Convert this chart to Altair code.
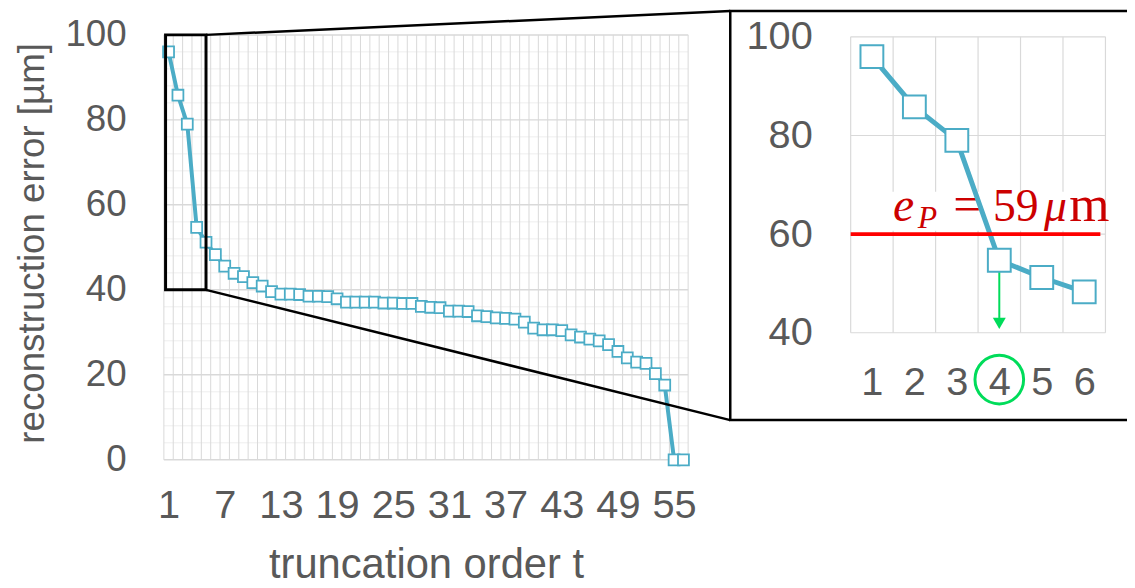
import altair as alt
import pandas as pd

# ---------------- data ----------------
orders = list(range(1, 57))
error_um = [96.0, 85.8, 79.0, 54.7, 51.2, 48.3, 45.6, 43.9, 43.1, 41.7,
            40.9, 39.6, 39.0, 39.0, 38.9, 38.5, 38.5, 38.4, 37.9, 37.1,
            37.1, 37.1, 37.1, 36.9, 36.9, 36.8, 36.8, 36.1, 35.9, 35.8,
            35.0, 35.0, 34.9, 33.9, 33.7, 33.4, 33.3, 33.1, 32.4, 31.0,
            30.6, 30.6, 30.4, 29.4, 28.9, 28.4, 28.0, 27.1, 25.5, 24.0,
            23.0, 22.7, 20.3, 17.6, 0.0, 0.0]
x_tick_labels = [1, 7, 13, 19, 25, 31, 37, 43, 49, 55]
y_ticks = [0, 20, 40, 60, 80, 100]
y_minor_ticks = [v for v in range(0, 101, 4) if v % 20]

inset_n = 6
inset_orders = orders[:inset_n]
inset_error_um = error_um[:inset_n]
inset_y_ticks = [40, 60, 80, 100]
threshold_drawn = 60
selected_order = 4

# zoom window (main-chart units) and the inset frame expressed in main-chart units
zoom_x = [0.68, 5.0]
zoom_y = [40, 100]
frame_x = [61.0, 110.0]
frame_y = [9.35, 105.6]

# ---------------- style ----------------
FONT = "Liberation Sans"
GRAY = "#595959"
BLUE = "#4BACC6"
GRID = "#D9D9D9"
GRID_MINOR = "#EEEEEE"
RED_LINE = "#FF0000"
RED_TEXT = "#CC0000"
GREEN = "#00DC5A"

MX = alt.Scale(domain=[0.5, 56.5], range=[157, 685], nice=False, zero=False)
MY = alt.Scale(domain=[0, 100], range=[453, 25], nice=False, zero=False)
IX = alt.Scale(domain=[0.5, 6.5], range=[848.7, 1105.3], nice=False, zero=False)
IY = alt.Scale(domain=[40, 100], range=[325, 27], nice=False, zero=False)

AXC = dict(labelFont=FONT, labelColor=GRAY, ticks=False, domain=False,
           grid=False, labelFlush=False, labelOverlap=False)

main_x_axis = alt.Axis(orient="bottom", offset=-127, values=x_tick_labels, format="d",
                       labelFontSize=40, labelPadding=46, labelBaseline="middle",
                       title="truncation order t", titleFont=FONT, titleFontSize=42,
                       titleFontWeight="normal", titleColor=GRAY, titleY=119,
                       titleBaseline="alphabetic", **AXC)
main_y_axis = alt.Axis(orient="left", offset=-157, values=y_ticks, format="d",
                       labelFontSize=37, labelPadding=38, labelBaseline="middle",
                       title="reconstruction error [µm]", titleFont=FONT, titleFontSize=37,
                       titleFontWeight="normal", titleColor=GRAY, titleX=-132, titleY=234.5,
                       titleAngle=270, titleBaseline="middle", titleAlign="center", **AXC)
inset_x_axis = alt.Axis(orient="bottom", offset=-255, values=inset_orders, format="d",
                        labelFontSize=40, labelPadding=50, labelBaseline="middle",
                        title="", **AXC)
inset_y_axis = alt.Axis(orient="left", offset=-848.7, values=inset_y_ticks, format="d",
                        labelFontSize=40, labelPadding=38.7, labelBaseline="middle",
                        title="", **AXC)


def mx(field, axis=None):
    return alt.X(field, scale=MX, axis=axis)


def my(field, axis=None):
    return alt.Y(field, scale=MY, axis=axis)


def ix(field, axis=None):
    return alt.X(field, scale=IX, axis=axis)


def iy(field, axis=None):
    return alt.Y(field, scale=IY, axis=axis)


# ---------------- main chart ----------------
main_df = pd.DataFrame({"t": orders, "err": error_um})
minor_df = pd.DataFrame({"y": y_minor_ticks, "x0": 0.5, "x1": 56.5})
major_df = pd.DataFrame({"y": y_ticks, "x0": 0.5, "x1": 56.5})
vgrid_df = pd.DataFrame({"x": [i + 0.5 for i in range(len(orders) + 1)], "y0": 0, "y1": 100})

minor = alt.Chart(minor_df).mark_rule(color=GRID_MINOR, strokeWidth=1).encode(
    x=mx("x0:Q", main_x_axis), x2="x1:Q", y=my("y:Q", main_y_axis))
vgrid = alt.Chart(vgrid_df).mark_rule(color=GRID, strokeWidth=1).encode(
    x=mx("x:Q"), y=my("y0:Q"), y2="y1:Q")
major = alt.Chart(major_df).mark_rule(color=GRID, strokeWidth=1.5).encode(
    x=mx("x0:Q"), x2="x1:Q", y=my("y:Q"))
line = alt.Chart(main_df).mark_line(color=BLUE, strokeWidth=4).encode(
    x=mx("t:Q"), y=my("err:Q"))
pts = alt.Chart(main_df).mark_point(shape="square", filled=True, fill="white", stroke=BLUE,
                                    strokeWidth=1.8, size=121, opacity=1).encode(
    x=mx("t:Q"), y=my("err:Q"))
zoom_rect = alt.Chart(pd.DataFrame({"x0": [zoom_x[0]], "x1": [zoom_x[1]],
                                    "y0": [zoom_y[0]], "y1": [zoom_y[1]]})).mark_rect(
    fillOpacity=0, stroke="black", strokeWidth=3).encode(
    x=mx("x0:Q"), x2="x1:Q", y=my("y0:Q"), y2="y1:Q")
conn = alt.Chart(pd.DataFrame({"x0": [zoom_x[1], zoom_x[1]], "y0": [zoom_y[1], zoom_y[0]],
                               "x1": [frame_x[0], frame_x[0]], "y1": [frame_y[1], frame_y[0]]})
                 ).mark_rule(color="black", strokeWidth=2.5).encode(
    x=mx("x0:Q"), x2="x1:Q", y=my("y0:Q"), y2="y1:Q")
frame = alt.Chart(pd.DataFrame({"x0": [frame_x[0]], "x1": [frame_x[1]],
                                "y0": [frame_y[0]], "y1": [frame_y[1]]})).mark_rect(
    fillOpacity=0, stroke="black", strokeWidth=2.5).encode(
    x=mx("x0:Q"), x2="x1:Q", y=my("y0:Q"), y2="y1:Q")

# ---------------- inset ----------------
inset_df = pd.DataFrame({"t": inset_orders, "err": inset_error_um})
ivgrid_df = pd.DataFrame({"x": [i + 0.5 for i in range(inset_n + 1)], "y0": 40, "y1": 100})
ihgrid_df = pd.DataFrame({"y": inset_y_ticks, "x0": 0.5, "x1": 6.5})

ivgrid = alt.Chart(ivgrid_df).mark_rule(color=GRID, strokeWidth=1.2).encode(
    x=ix("x:Q", inset_x_axis), y=iy("y0:Q", inset_y_axis), y2="y1:Q")
ihgrid = alt.Chart(ihgrid_df).mark_rule(color=GRID, strokeWidth=1.2).encode(
    x=ix("x0:Q"), x2="x1:Q", y=iy("y:Q"))
label_bg = alt.Chart(pd.DataFrame({"x0": [1.44], "x1": [6.42], "y0": [60.7], "y1": [68.6]})
                     ).mark_rect(color="white").encode(
    x=ix("x0:Q"), x2="x1:Q", y=iy("y0:Q"), y2="y1:Q")

anchor = pd.DataFrame({"x": [1.63], "y": [62.75]})
glyphs = [("e", 5, 0, "italic", 48), ("P", 29, 7, "italic", 32), ("=", 69, 0, "normal", 50),
          ("59", 118, 0, "normal", 46), ("μ", 158, 0, "italic", 46), ("m", 192, 0, "normal", 52)]
label_layers = []
for g, dx, dy, style, fs in glyphs:
    label_layers.append(
        alt.Chart(anchor).mark_text(font="Liberation Serif", fontSize=fs, fontStyle=style,
                                    color=RED_TEXT, align="center", baseline="alphabetic",
                                    dx=dx, dy=dy).encode(
            x=ix("x:Q"), y=iy("y:Q"), text=alt.value(g)))

sel_err = inset_error_um[selected_order - 1]
arrow = alt.Chart(pd.DataFrame({"x": [selected_order], "y0": [sel_err], "y1": [43.0]})
                  ).mark_rule(color=GREEN, strokeWidth=2).encode(
    x=ix("x:Q"), y=iy("y0:Q"), y2="y1:Q")
arrow_head = alt.Chart(pd.DataFrame({"x": [selected_order], "y": [41.9]})).mark_point(
    shape="triangle-down", filled=True, color=GREEN, size=170, opacity=1).encode(
    x=ix("x:Q"), y=iy("y:Q"))

iline = alt.Chart(inset_df).mark_line(color=BLUE, strokeWidth=5).encode(
    x=ix("t:Q"), y=iy("err:Q"))
ipts = alt.Chart(inset_df).mark_point(shape="square", filled=True, fill="white", stroke=BLUE,
                                      strokeWidth=2, size=529, opacity=1).encode(
    x=ix("t:Q"), y=iy("err:Q"))
red = alt.Chart(pd.DataFrame({"x0": [0.5], "x1": [6.38], "y": [threshold_drawn]})).mark_rule(
    color=RED_LINE, strokeWidth=4).encode(
    x=ix("x0:Q"), x2="x1:Q", y=iy("y:Q"))
ring = alt.Chart(pd.DataFrame({"x": [selected_order], "y": [30.5]})).mark_point(
    shape="circle", filled=False, color=GREEN, strokeWidth=3, size=2400, opacity=1).encode(
    x=ix("x:Q"), y=iy("y:Q"))

layers = [minor, vgrid, major, line, pts, zoom_rect, conn, frame,
          ivgrid, ihgrid, label_bg, *label_layers, arrow, arrow_head, iline, ipts, red, ring]

chart = alt.layer(*layers).resolve_scale(
    x="independent", y="independent").properties(
    width=1127, height=580, autosize=alt.AutoSizeParams(type="none"), padding=0
).configure_view(strokeWidth=0)

chart.save("out.html", embed_options={"renderer": "svg", "actions": False})
